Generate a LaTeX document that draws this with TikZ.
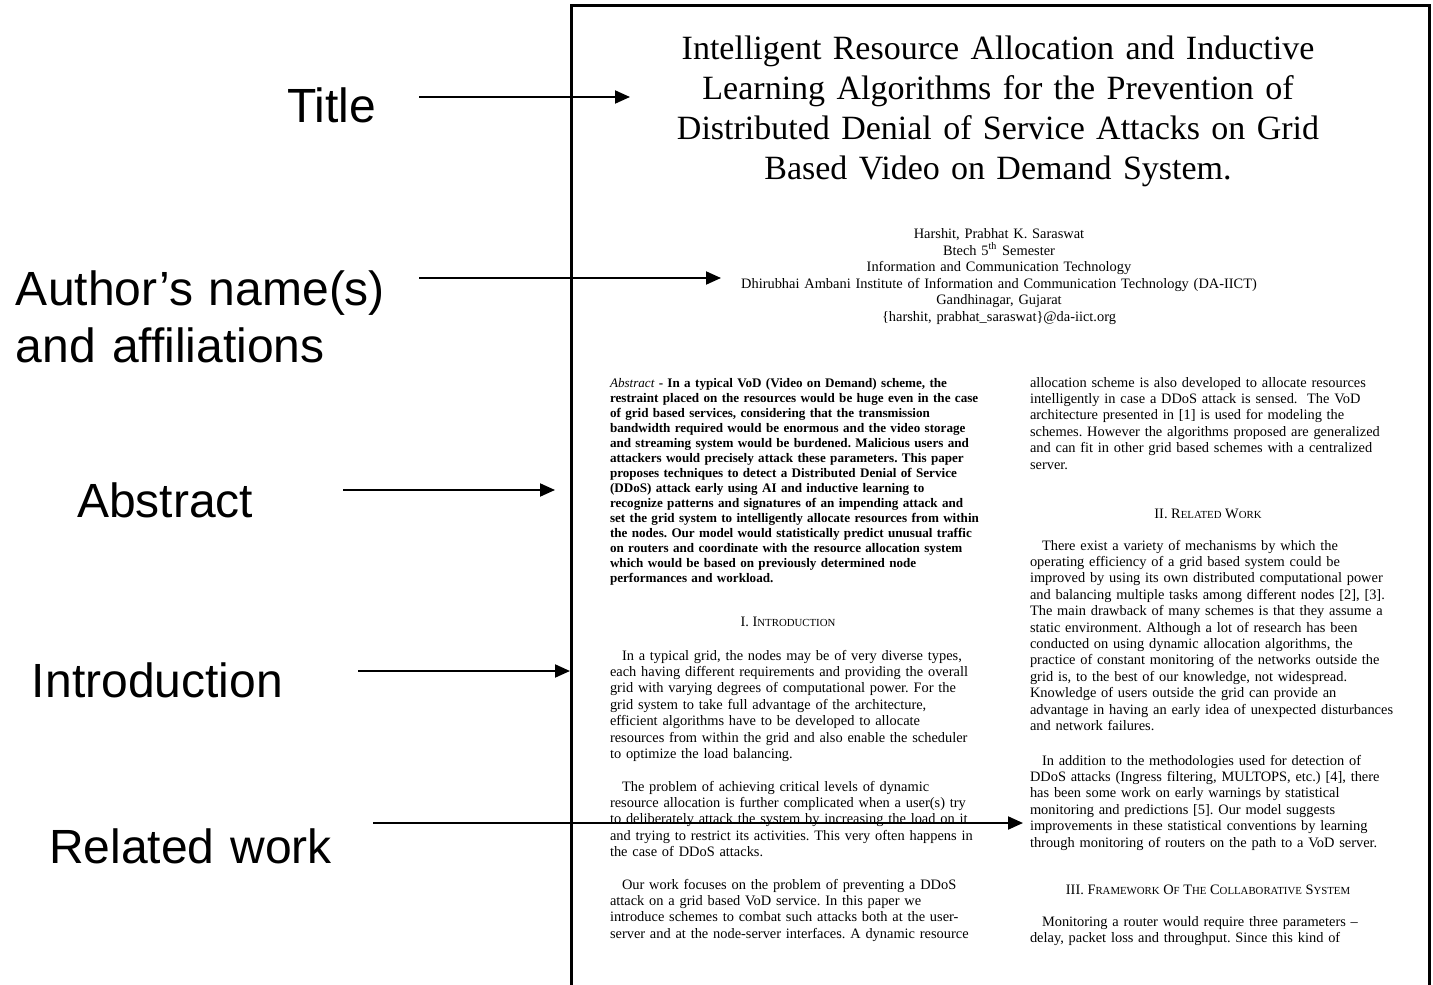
\documentclass[tikz,border=0pt]{standalone}
\usepackage{fontspec}
\setmainfont{Liberation Serif}
\newfontfamily\sidefont{Liberation Sans}
\usetikzlibrary{arrows.meta}
\frenchspacing
\newcommand{\hsc}[1]{{\fontsize{5.4}{6}\selectfont #1}}
\tikzset{
    sidelabel/.style={anchor=base west,inner sep=0pt,outer sep=0pt,
        text width=200pt,align=left,
        font=\sidefont\fontsize{24}{28.5}\selectfont},
    pointer/.style={line width=1pt,-{Triangle[length=7.5pt,width=6.5pt]}},
    bodytext/.style={anchor=base west,inner sep=0pt,outer sep=0pt,
        text width=200pt,align=left,
        font=\fontsize{7.2}{8.2}\selectfont},
    headtext/.style={anchor=base,inner sep=0pt,outer sep=0pt,
        font=\fontsize{7.2}{8.2}\selectfont},
}

\begin{document}
\begin{tikzpicture}[x=0.5pt,y=-0.5pt]
    \useasboundingbox (0,0) rectangle (1433,984);
    \draw[line width=1.5pt] (571,990) -- (571,6) -- (1429,6) -- (1429,990);

    % title and authors of the paper
    \node[anchor=base,inner sep=0pt,text width=400pt,align=center,
        font=\fontsize{17}{20}\selectfont] (ptitle) at (998,60)
        {Intelligent Resource Allocation and Inductive\\
        Learning Algorithms for the Prevention of\\
        Distributed Denial of Service Attacks on Grid\\
        Based Video on Demand System.};
    \node[anchor=base,inner sep=0pt,text width=400pt,align=center,
        font=\fontsize{7.2}{8.2}\selectfont] (pauthors) at (999,239)
        {Harshit, Prabhat K. Saraswat\\
        Btech 5\textsuperscript{th} Semester\\
        Information and Communication Technology\\
        Dhirubhai Ambani Institute of Information and Communication Technology (DA-IICT)\\
        Gandhinagar, Gujarat\\
        \{harshit, prabhat\_saraswat\}@da-iict.org};

    % left column
    \node[bodytext,font=\fontsize{6.55}{7.5}\selectfont\bfseries] (pabstract) at (610,387)
        {{\mdseries\itshape Abstract} - In a typical VoD (Video on Demand) scheme, the\\
        restraint placed on the resources would be huge even in the case\\
        of grid based services, considering that the transmission\\
        bandwidth required would be enormous and the video storage\\
        and streaming system would be burdened. Malicious users and\\
        attackers would precisely attack these parameters. This paper\\
        proposes techniques to detect a Distributed Denial of Service\\
        (DDoS) attack early using AI and inductive learning to\\
        recognize patterns and signatures of an impending attack and\\
        set the grid system to intelligently allocate resources from within\\
        the nodes. Our model would statistically predict unusual traffic\\
        on routers and coordinate with the resource allocation system\\
        which would be based on previously determined node\\
        performances and workload.};
    \node[headtext] (hintro) at (788,626) {I. I\hsc{NTRODUCTION}};
    \node[bodytext] (pintroA) at (610,660)
        {\hspace*{6pt}In a typical grid, the nodes may be of very diverse types,\\
        each having different requirements and providing the overall\\
        grid with varying degrees of computational power. For the\\
        grid system to take full advantage of the architecture,\\
        efficient algorithms have to be developed to allocate\\
        resources from within the grid and also enable the scheduler\\
        to optimize the load balancing.};
    \node[bodytext] (pintroB) at (610,791)
        {\hspace*{6pt}The problem of achieving critical levels of dynamic\\
        resource allocation is further complicated when a user(s) try\\
        to deliberately attack the system by increasing the load on it\\
        and trying to restrict its activities. This very often happens in\\
        the case of DDoS attacks.};
    \node[bodytext] (pintroC) at (610,889)
        {\hspace*{6pt}Our work focuses on the problem of preventing a DDoS\\
        attack on a grid based VoD service. In this paper we\\
        introduce schemes to combat such attacks both at the user-\\
        server and at the node-server interfaces. A dynamic resource};

    % right column
    \node[bodytext] (pcont) at (1030,387)
        {allocation scheme is also developed to allocate resources\\
        intelligently in case a DDoS attack is sensed.\ \ The VoD\\
        architecture presented in [1] is used for modeling the\\
        schemes. However the algorithms proposed are generalized\\
        and can fit in other grid based schemes with a centralized\\
        server.};
    \node[headtext] (hrelated) at (1208,518) {II. R\hsc{ELATED} W\hsc{ORK}};
    \node[bodytext] (prelA) at (1030,550)
        {\hspace*{6pt}There exist a variety of mechanisms by which the\\
        operating efficiency of a grid based system could be\\
        improved by using its own distributed computational power\\
        and balancing multiple tasks among different nodes [2], [3].\\
        The main drawback of many schemes is that they assume a\\
        static environment. Although a lot of research has been\\
        conducted on using dynamic allocation algorithms, the\\
        practice of constant monitoring of the networks outside the\\
        grid is, to the best of our knowledge, not widespread.\\
        Knowledge of users outside the grid can provide an\\
        advantage in having an early idea of unexpected disturbances\\
        and network failures.};
    \node[bodytext] (prelB) at (1030,765)
        {\hspace*{6pt}In addition to the methodologies used for detection of\\
        DDoS attacks (Ingress filtering, MULTOPS, etc.) [4], there\\
        has been some work on early warnings by statistical\\
        monitoring and predictions [5]. Our model suggests\\
        improvements in these statistical conventions by learning\\
        through monitoring of routers on the path to a VoD server.};
    \node[headtext] (hframe) at (1208,894)
        {III. F\hsc{RAMEWORK} O\hsc{F} T\hsc{HE} C\hsc{OLLABORATIVE} S\hsc{YSTEM}};
    \node[bodytext] (pframe) at (1030,926)
        {\hspace*{6pt}Monitoring a router would require three parameters --\\
        delay, packet loss and throughput. Since this kind of};

    % side labels with their arrows
    \foreach \txt/\lx/\ly/\ax/\bx/\ay [count=\n] in {
        Title/287/123/419/630/97,
        {Author’s name(s)\\and affiliations}/16/305/419/721/278,
        Abstract/77/517/343/555/490,
        Introduction/32/697/358/570/671,
        Related work/49/863/373/1023/823}{
        \node[sidelabel] (lbl\n) at (\lx,\ly) {\txt};
        \coordinate (tail\n) at (\ax,\ay);
        \coordinate (tip\n) at (\bx,\ay);
        \draw[pointer] (tail\n) -- (tip\n);
    }
\end{tikzpicture}
\end{document}
